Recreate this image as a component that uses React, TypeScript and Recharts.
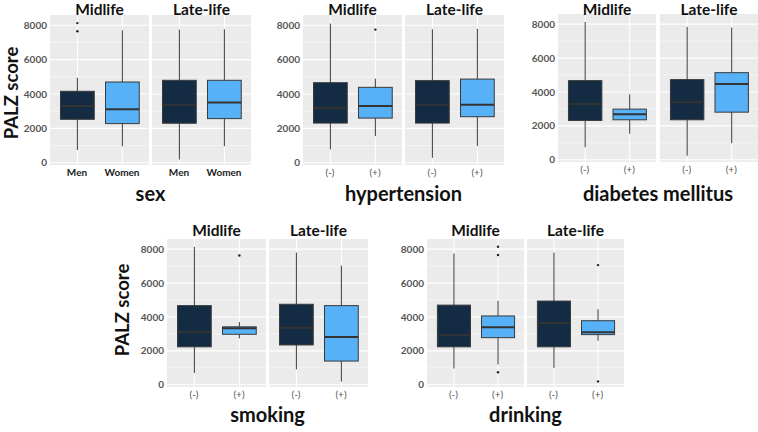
import React from "react";
import { ComposedChart, Bar, XAxis, YAxis, CartesianGrid } from "recharts";

const stages = ["Midlife", "Late-life"];
const sexLevels = ["Men", "Women"];
const flagLevels = ["(-)", "(+)"];
const yTicks = [0, 2000, 4000, 6000, 8000];
const yMinor = [1000, 3000, 5000, 7000];
const yDomain = [-130, 8600];

// each box: [lower whisker, Q1, median, Q3, upper whisker]
const sexMid = [[750, 2530, 3300, 4160, 4950], [960, 2280, 3110, 4700, 7710]];
const sexLate = [[190, 2300, 3380, 4800, 7750], [960, 2570, 3510, 4800, 7770]];
const sexMidOut = [[8130, 7650], []];
const sexLateOut = [[], []];

const hypMid = [[775, 2310, 3200, 4660, 8100], [1550, 2600, 3300, 4390, 4890]];
const hypLate = [[290, 2310, 3380, 4780, 7770], [970, 2680, 3380, 4870, 7800]];
const hypMidOut = [[], [7750]];
const hypLateOut = [[], []];

const diaMid = [[745, 2320, 3290, 4670, 8130], [1540, 2360, 2680, 2990, 3860]];
const diaLate = [[240, 2360, 3390, 4730, 7840], [980, 2810, 4470, 5140, 7800]];
const diaMidOut = [[], []];
const diaLateOut = [[], []];

const smkMid = [[700, 2240, 3130, 4670, 8135], [2740, 2980, 3330, 3420, 3700]];
const smkLate = [[910, 2350, 3360, 4750, 7800], [190, 1400, 2820, 4670, 7030]];
const smkMidOut = [[], [7630]];
const smkLateOut = [[], []];

const drkMid = [[960, 2240, 2920, 4700, 7740], [1200, 2780, 3400, 4060, 4960]];
const drkLate = [[1000, 2240, 3640, 4940, 7800], [2600, 2960, 3100, 3780, 4460]];
const drkMidOut = [[], [8140, 7660, 740]];
const drkLateOut = [[], [7060, 200]];

const COLORS = ["#132B43", "#56B1F7"];
const FONT = "Lato, 'Open Sans', sans-serif";

type Row = { g: string; lo: number; q1: number; med: number; q3: number; hi: number; out: number[]; fill: string };

const makeRows = (levels: string[], boxes: number[][], outs: number[][]): Row[] =>
  levels.map((g, i) => ({
    g, lo: boxes[i][0], q1: boxes[i][1], med: boxes[i][2], q3: boxes[i][3], hi: boxes[i][4],
    out: outs[i], fill: COLORS[i],
  }));

const panels = [
  { title: "sex", levels: sexLevels, mid: sexMid, late: sexLate, midOut: sexMidOut, lateOut: sexLateOut, bold: true },
  { title: "hypertension", levels: flagLevels, mid: hypMid, late: hypLate, midOut: hypMidOut, lateOut: hypLateOut, bold: false },
  { title: "diabetes mellitus", levels: flagLevels, mid: diaMid, late: diaLate, midOut: diaMidOut, lateOut: diaLateOut, bold: false },
  { title: "smoking", levels: flagLevels, mid: smkMid, late: smkLate, midOut: smkMidOut, lateOut: smkLateOut, bold: false },
  { title: "drinking", levels: flagLevels, mid: drkMid, late: drkLate, midOut: drkMidOut, lateOut: drkLateOut, bold: false },
];

// plot-area placement of each panel: [midLeft, lateLeft, facetWidth, top, height, titleBaseline, axisTitleBaseline]
const layout = [
  [50, 152, 99, 15, 150, 15, 201],
  [303, 405, 99, 15, 150, 15, 201],
  [558, 660, 98, 14, 148, 15, 201],
  [167, 269, 99, 239, 148, 236, 422],
  [427, 527, 97, 239, 148, 236, 422],
];

function BoxShape(props: any) {
  const { x, y, width, height, payload } = props;
  if (!payload || !isFinite(y)) return null;
  const per = height / (payload.hi - payload.lo);
  const py = (v: number) => y + (payload.hi - v) * per;
  const cx = x + width / 2;
  const line = "#3a3a3a";
  return (
    <g>
      <line x1={cx} x2={cx} y1={py(payload.hi)} y2={py(payload.lo)} stroke={line} strokeWidth={1} />
      <rect x={x} y={py(payload.q3)} width={width} height={py(payload.q1) - py(payload.q3)} fill={payload.fill} stroke={line} strokeWidth={1} />
      <line x1={x} x2={x + width} y1={py(payload.med)} y2={py(payload.med)} stroke="#333" strokeWidth={2} />
      {payload.out.map((v: number, i: number) => (
        <circle key={i} cx={cx} cy={py(v)} r={1.2} fill="#222" />
      ))}
    </g>
  );
}

function VGrid(props: any) {
  const { x, y, width, height } = props;
  return <line x1={x + width / 2} x2={x + width / 2} y1={y} y2={y + height} stroke="#fff" strokeWidth={1} />;
}

function Facet({ left, top, w, h, rows, showY, bold }: { left: number; top: number; w: number; h: number; rows: Row[]; showY: boolean; bold: boolean }) {
  const yw = showY ? 40 : 0;
  const pad = w * 0.0455;
  const band = (w - 2 * pad) / 2;
  return (
    <div style={{ position: "absolute", left: left - yw, top }}>
      <ComposedChart width={w + yw} height={h + 22} data={rows} margin={{ top: 0, right: 0, bottom: 0, left: 0 }} barCategoryGap={0}>
        <CartesianGrid fill="#EBEBEB" fillOpacity={1} stroke="#fff" strokeWidth={0.5} vertical={false} horizontalValues={yMinor} />
        <CartesianGrid stroke="#fff" strokeWidth={1.1} vertical={false} horizontalValues={yTicks} />
        <XAxis dataKey="g" type="category" axisLine={false} tickLine={false} tickSize={0} tickMargin={4} height={22}
          interval={0} padding={{ left: pad, right: pad }}
          tick={{ fontSize: 10, fontFamily: FONT, fill: bold ? "#222" : "#555", fontWeight: bold ? 700 : 400 }} />
        <YAxis hide={!showY} width={yw} type="number" domain={yDomain} ticks={yTicks} allowDataOverflow
          axisLine={false} tickLine={false} tickSize={0} tickMargin={3}
          tick={{ fontSize: 10, fontFamily: FONT, fill: "#555", fontWeight: 700 }} />
        <Bar dataKey={(d: Row) => [d.lo, d.hi]} barSize={band * 0.75} shape={<BoxShape />} background={<VGrid />} isAnimationActive={false} />
      </ComposedChart>
    </div>
  );
}

export default function App() {
  return (
    <div style={{ position: "absolute", left: 0, top: 0, width: 758, height: 432, background: "#fff", overflow: "hidden" }}>
      {panels.map((p, i) => {
        const [midL, lateL, w, top, h] = layout[i];
        return (
          <React.Fragment key={p.title}>
            <Facet left={midL} top={top} w={w} h={h} rows={makeRows(p.levels, p.mid, p.midOut)} showY bold={p.bold} />
            <Facet left={lateL} top={top} w={w} h={h} rows={makeRows(p.levels, p.late, p.lateOut)} showY={false} bold={p.bold} />
          </React.Fragment>
        );
      })}
      <svg width={758} height={432} style={{ position: "absolute", left: 0, top: 0, pointerEvents: "none" }} fontFamily={FONT}>
        {panels.map((p, i) => {
          const [midL, lateL, w, , , tb, ab] = layout[i];
          return (
            <g key={p.title}>
              <text x={midL + w / 2} y={tb} textAnchor="middle" fontSize={15.5} fontWeight={700} fill="#111">{stages[0]}</text>
              <text x={lateL + w / 2} y={tb} textAnchor="middle" fontSize={15.5} fontWeight={700} fill="#111">{stages[1]}</text>
              <text x={(midL + lateL + w) / 2} y={ab} textAnchor="middle" fontSize={20} fontWeight={700} fill="#111">{p.title}</text>
            </g>
          );
        })}
        <text transform="translate(18,93) rotate(-90)" textAnchor="middle" fontSize={18.5} fontWeight={700} fill="#111">PALZ score</text>
        <text transform="translate(129,310) rotate(-90)" textAnchor="middle" fontSize={18.5} fontWeight={700} fill="#111">PALZ score</text>
      </svg>
    </div>
  );
}
